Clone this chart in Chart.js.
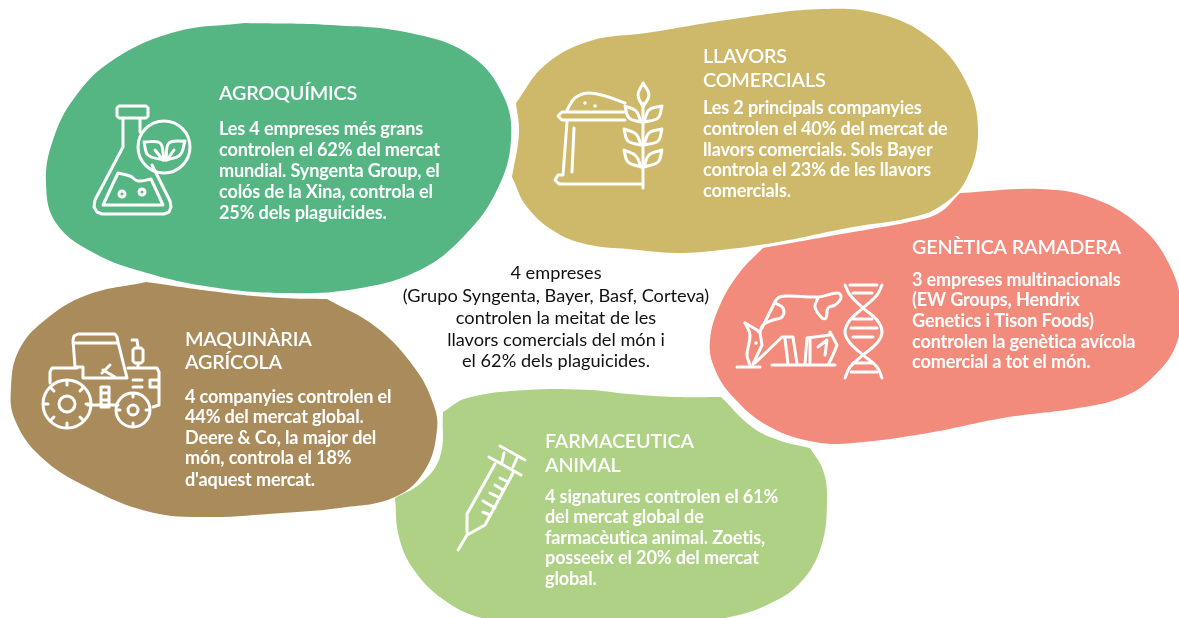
<!DOCTYPE html>
<html>
<head>
<meta charset="utf-8">
<style>
  html, body { margin: 0; padding: 0; background: #fff; overflow: hidden; }
  canvas { display: block; }
</style>
<script src="https://cdn.jsdelivr.net/npm/chart.js@4/dist/chart.umd.min.js"></script>
</head>
<body>
<canvas id="chart" width="1179" height="618"></canvas>
<script>
// blob outlines (doubled points = sharp corners)
const blobGreen = [[245,23],[330,25],[410,33],[470,55],[503,95],[511,140],[497,190],[465,235],[420,270],[355,289],[282,293],[211,287],[147,273],[94,253],[56,223],[46,183],[53,140],[75,97],[113,60],[175,32],[245,23]];
const blobYellow = [[516,103],[516,103],[545,65],[590,41],[646,33],[740,18],[823,9],[880,14],[930,38],[965,80],[978,130],[966,180],[939,207],[909,218],[853,227],[778,242],[721,250],[676,253],[628,249],[590,245],[557,233],[527,207],[512,177],[512,177],[519,133],[516,103]];
const blobSalmon = [[960,193],[960,193],[1041,189],[1095,199],[1140,226],[1168,262],[1181,305],[1176,345],[1153,377],[1123,397],[1078,408],[1003,418],[928,433],[853,443],[815,442],[770,427],[733,397],[714,367],[710,340],[720,305],[740,272],[763,248],[763,248],[853,232],[909,222],[939,213],[960,193]];
const blobBrown = [[146,282],[146,282],[226,293],[282,298],[327,299],[327,299],[376,327],[414,367],[433,403],[437,430],[425,470],[395,497],[339,508],[282,513],[207,517],[150,512],[87,487],[41,457],[15,420],[11,387],[19,350],[45,320],[87,295],[146,282]];
const blobLime = [[443,412],[443,412],[467,398],[527,390],[590,390],[628,394],[676,397],[721,397],[721,397],[752,427],[778,440],[810,448],[810,448],[823,470],[827,500],[821,547],[800,583],[767,605],[725,618],[600,640],[482,618],[444,600],[414,570],[399,537],[395,498],[395,498],[421,483],[440,457],[443,412]];

// icon strokes
const flaskLines = [
  [[119,106],[146,106],[148,108],[148,116],[146,118],[119,118],[117,116],[117,108],[119,106]],
  [[123,118],[123,147],[95,200],[94,207],[97,212],[102,214],[164,214],[169,212],[171,207],[170,201],[152,165]],
  [[140,118],[140,132]],
  [[155,150],[163,160]], [[174,150],[167,160]]
];
const flaskCurves = [
  [[103,205],[103,205],[118,173],[118,173],[130,176],[138,181],[151,179],[151,179],[163,205],[163,205],[103,205]],
  [[164,160],[164,160],[160,143],[144,142],[144,142],[148,155],[164,160]],
  [[166,160],[166,160],[169,143],[185,141],[185,141],[180,155],[166,160]]
];
const grainLines = [
  [[567,122],[563,175],[558,175],[555,180],[559,184],[643,184]],
  [[574,128],[572,172]],
  [[643,103],[643,188]],
  [[625,112],[562,112],[558,116],[562,120],[625,120]]
];
const grainCurves = [
  [[567,110],[575,98],[588,93],[605,96],[625,103]],
  [[643,83],[643,83],[649,95],[643,107],[643,107],[638,95],[643,83]],
  [[644,122],[644,122],[649,110],[662,106],[662,106],[658,118],[644,122]],
  [[641,122],[641,122],[636,111],[625,106],[625,106],[629,118],[641,122]],
  [[644,145],[644,145],[649,133],[662,129],[662,129],[658,141],[644,145]],
  [[641,145],[641,145],[636,134],[624,129],[624,129],[628,141],[641,145]],
  [[644,167],[644,167],[649,155],[662,150],[662,150],[658,162],[644,167]],
  [[641,167],[641,167],[636,156],[624,150],[624,150],[628,162],[641,167]]
];
const cowLines = [
  [[745,323],[757,330],[760,333],[762,345],[753,364]],
  [[755,363],[782,337],[793,337],[797,364]],
  [[785,339],[788,364]],
  [[805,364],[807,338],[830,335],[830,332],[837,345],[833,355],[828,365]],
  [[810,338],[810,364]],
  [[818,347],[827,340],[825,355]],
  [[737,367],[760,367]], [[772,365],[835,365]],
  [[850,285],[877,285]], [[853,293],[872,293]], [[853,319],[872,319]], [[851,328],[877,328]],
  [[853,337],[873,337]], [[853,363],[872,363]], [[851,372],[877,372]]
];
const cowCurves = [
  [[762,328],[772,308],[778,298],[788,296],[818,297],[838,293],[841,298],[835,305],[828,308],[826,318],[822,318],[815,307],[818,298]],
  [[775,303],[783,308],[782,317],[773,320],[763,325],[760,332]],
  [[745,323],[750,335],[747,355],[750,365]],
  [[845,285],[850,295],[863,308],[877,320],[882,332],[877,343],[863,355],[850,367],[845,378]],
  [[882,285],[877,295],[863,308],[850,320],[845,332],[850,343],[863,355],[877,367],[882,378]]
];
const tractorLines = [
  [[73,340],[74,336],[78,334],[115,334],[117,337],[118,342],[127,378],[83,378],[83,367],[75,367],[73,340]],
  [[73,343],[117,343]],
  [[102,373],[110,365]], [[103,370],[115,377]],
  [[77,368],[52,368],[50,372],[50,383]],
  [[128,368],[157,368],[159,372],[159,405],[153,407]],
  [[88,405],[118,405]],
  [[135,348],[141,348],[143,350],[143,361],[141,363],[135,363],[133,361],[133,350],[135,348]],
  [[138,363],[138,368]], [[132,340],[137,340],[138,347]],
  [[150,380],[159,380]], [[150,387],[159,387]], [[150,380],[150,387]],
  [[133,380],[142,380]], [[133,387],[142,387]],
  [[101,387],[109,387],[109,407],[101,407],[101,387]], [[101,393],[109,393]], [[101,400],[109,400]],
  [[67,381],[67,385]], [[67,423],[67,427]], [[44,404],[48,404]], [[86,404],[90,404]],
  [[51,388],[54,391]], [[83,388],[80,391]], [[51,420],[54,417]], [[83,420],[80,417]],
  [[133,394],[133,397]], [[133,423],[133,426]], [[117,410],[120,410]], [[146,410],[149,410]]
];
const syringeLines = [
  [[500,446],[525,460]],
  [[504,453],[502,462]], [[517,458],[513,467]],
  [[489,457],[521,475]],
  [[495,464],[467,514],[467,532]],
  [[513,473],[485,525],[467,535],[458,550]],
  [[500,478],[508,482]], [[495,485],[503,490]], [[490,493],[500,498]], [[483,501],[495,508]], [[483,512],[490,515]]
];

// round parts of the icons: x, y, radius
const ringX = [164, 122, 142, 67, 67, 133, 133];
const ringY = [147, 194, 192, 404, 404, 410, 410];
const ringR = [26, 3, 3, 24, 8, 17, 5];
const dotX = [585, 595, 756];
const dotY = [103, 106, 343];

// texts
const titles = [["AGROQUÍMICS"], ["LLAVORS", "COMERCIALS"], ["GENÈTICA RAMADERA"], ["MAQUINÀRIA", "AGRÍCOLA"], ["FARMACEUTICA", "ANIMAL"]];
const bodies = [
  ["Les 4 empreses més grans", "controlen el 62% del mercat", "mundial. Syngenta Group, el", "colós de la Xina, controla el", "25% dels plaguicides."],
  ["Les 2 principals companyies", "controlen el 40% del mercat de", "llavors comercials. Sols Bayer", "controla el 23% de les llavors", "comercials."],
  ["3 empreses multinacionals", "(EW Groups, Hendrix", "Genetics i Tison Foods)", "controlen la genètica avícola", "comercial a tot el món."],
  ["4 companyies controlen el", "44% del mercat global.", "Deere & Co, la major del", "món, controla el 18%", "d'aquest mercat."],
  ["4 signatures controlen el 61%", "del mercat global de", "farmacèutica animal. Zoetis,", "posseeix el 20% del mercat", "global."]
];
const centerText = ["4 empreses", "(Grupo Syngenta, Bayer, Basf, Corteva)", "controlen la meitat de les", "llavors comercials del món i", "el 62% dels plaguicides."];

const toXY = pts => pts.map(p => ({x: p[0], y: p[1]}));
// several strokes in one dataset, with a gap between them
const joinPaths = paths => {
  const out = [];
  paths.forEach(path => {
    out.push(...toXY(path));
    out.push({x: null, y: null});
  });
  return out;
};

const blob = (pts, color) => ({
  data: toXY(pts), showLine: true, fill: 'shape', backgroundColor: color,
  borderWidth: 0, borderColor: color, tension: 0.4, pointRadius: 0, order: 5
});
const stroke = (paths, tension) => ({
  data: joinPaths(paths), showLine: true, fill: false, borderColor: '#fff', borderWidth: 3,
  borderCapStyle: 'round', borderJoinStyle: 'round', tension: tension, pointRadius: 0, order: 1
});

// draws titles and paragraphs on top of the blobs
const textPlugin = {
  id: 'texts',
  afterDatasetsDraw(chart) {
    const c = chart.ctx;
    const sx = chart.scales.x, sy = chart.scales.y;
    const put = (str, x, y) => c.fillText(str, sx.getPixelForValue(x), sy.getPixelForValue(y));
    c.save();
    c.textBaseline = 'middle';
    c.fillStyle = '#fff';
    const blocks = [
      {x: 219, title: [94], body: [129, 150, 171, 192, 213]},
      {x: 703, title: [57, 81], body: [108, 129, 150, 170, 191]},
      {x: 912, title: [248], body: [280, 300, 321, 342, 362]},
      {x: 185, title: [340, 363], body: [397, 417, 438, 458, 480]},
      {x: 545, title: [442, 466], body: [497, 517, 538, 558, 579]}
    ];
    blocks.forEach((b, i) => {
      c.textAlign = 'left';
      c.font = '600 19.8px Lato';
      c.letterSpacing = '-0.2px';
      titles[i].forEach((t, j) => put(t, b.x, b.title[j]));
      c.font = '700 18.1px Lato';
      c.letterSpacing = '-0.15px';
      bodies[i].forEach((t, j) => put(t, b.x, b.body[j]));
    });
    c.fillStyle = '#111';
    c.textAlign = 'center';
    c.font = '400 18.2px Lato';
    c.letterSpacing = '0px';
    const centerY = [273, 296, 318, 340, 361];
    centerText.forEach((t, j) => put(t, 556, centerY[j]));
    c.restore();
  }
};

new Chart(document.getElementById('chart').getContext('2d'), {
  type: 'scatter',
  data: {
    datasets: [
      blob(blobGreen, '#55b683'),
      blob(blobYellow, '#ceb96a'),
      blob(blobSalmon, '#f28b7c'),
      blob(blobBrown, '#aa8c5c'),
      blob(blobLime, '#aed185'),
      stroke([...flaskLines, ...grainLines, ...cowLines, ...tractorLines, ...syringeLines], 0),
      stroke([...flaskCurves, ...grainCurves, ...cowCurves], 0.4),
      {
        data: ringX.map((x, i) => ({x: x, y: ringY[i]})),
        pointRadius: ringR, pointBackgroundColor: 'rgba(0,0,0,0)',
        pointBorderColor: '#fff', pointBorderWidth: 3, order: 1
      },
      {
        data: dotX.map((x, i) => ({x: x, y: dotY[i]})),
        pointRadius: 1.8, pointBackgroundColor: '#fff', pointBorderWidth: 0, order: 1
      }
    ]
  },
  options: {
    responsive: false,
    animation: false,
    layout: {padding: 0, autoPadding: false},
    plugins: {legend: {display: false}, tooltip: {enabled: false}},
    scales: {
      x: {type: 'linear', min: 0, max: 1179, display: false},
      y: {type: 'linear', min: 0, max: 618, reverse: true, display: false}
    }
  },
  plugins: [textPlugin]
});
</script>
</body>
</html>
